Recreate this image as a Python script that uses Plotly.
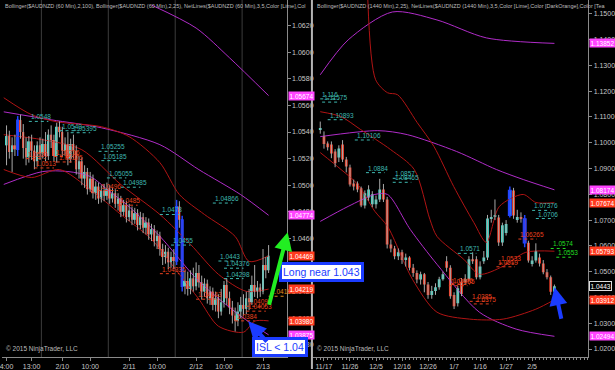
import plotly.graph_objects as go

# ---------------- LEFT PANEL: $AUDNZD 60 min ----------------
L_open = [1.0530,1.0537,1.0525,1.0530,1.0527,1.0549,1.0540,1.0528,1.0521,1.0533,
          1.0526,1.0518,1.0530,1.0524,1.0531,1.0522,1.0538,1.0534,1.0522,1.0544,
          1.0540,1.0526,1.0531,1.0520,1.0531,1.0526,1.0512,1.0518,1.0505,1.0510,
          1.0497,1.0505,1.0494,1.0499,1.0490,1.0496,1.0492,1.0497,1.0490,1.0494,
          1.0486,1.0490,1.0480,1.0485,1.0476,1.0481,1.0474,1.0479,1.0470,1.0476,
          1.0468,1.0472,1.0463,1.0467,1.0458,1.0462,1.0452,1.0446,1.0450,1.0442,
          1.0446,1.0443,1.0484,1.0474,1.0424,1.0428,1.0422,1.0430,1.0424,1.0434,
          1.0427,1.0420,1.0426,1.0415,1.0420,1.0410,1.0415,1.0405,1.0412,1.0425,
          1.0415,1.0408,1.0402,1.0398,1.0405,1.0410,1.0407,1.0415,1.0412,1.0425,
          1.0420,1.0423,1.0420,1.0440,1.0436]
L_close = [1.0537,1.0525,1.0530,1.0527,1.0549,1.0540,1.0528,1.0521,1.0533,1.0526,
           1.0518,1.0530,1.0524,1.0531,1.0522,1.0538,1.0534,1.0522,1.0544,1.0540,
           1.0526,1.0531,1.0520,1.0531,1.0526,1.0512,1.0518,1.0505,1.0510,1.0497,
           1.0505,1.0494,1.0499,1.0490,1.0496,1.0492,1.0497,1.0490,1.0494,1.0486,
           1.0490,1.0480,1.0485,1.0476,1.0481,1.0474,1.0479,1.0470,1.0476,1.0468,
           1.0472,1.0463,1.0467,1.0458,1.0462,1.0452,1.0446,1.0450,1.0442,1.0446,
           1.0443,1.0484,1.0474,1.0424,1.0428,1.0422,1.0430,1.0424,1.0434,1.0427,
           1.0420,1.0426,1.0415,1.0420,1.0410,1.0415,1.0405,1.0412,1.0425,1.0415,
           1.0408,1.0402,1.0398,1.0405,1.0410,1.0407,1.0415,1.0412,1.0425,1.0420,
           1.0423,1.0420,1.0440,1.0436,1.0447]
L_high = [1.0545,1.0541,1.0536,1.0538,1.0552,1.0553,1.0546,1.0536,1.0537,1.0538,
          1.0530,1.0533,1.0536,1.0535,1.0540,1.0542,1.0545,1.0538,1.0547,1.0548,
          1.0544,1.0536,1.0540,1.0535,1.0538,1.0530,1.0522,1.0521,1.0515,1.0513,
          1.0510,1.0508,1.0503,1.0502,1.0500,1.0501,1.0502,1.0500,1.0498,1.0497,
          1.0494,1.0492,1.0489,1.0488,1.0486,1.0484,1.0483,1.0482,1.0480,1.0479,
          1.0476,1.0475,1.0471,1.0470,1.0466,1.0465,1.0456,1.0455,1.0453,1.0450,
          1.0452,1.0489,1.0488,1.0477,1.0436,1.0435,1.0436,1.0438,1.0442,1.0440,
          1.0432,1.0430,1.0429,1.0424,1.0423,1.0420,1.0418,1.0422,1.0428,1.0430,
          1.0420,1.0413,1.0408,1.0412,1.0416,1.0418,1.0420,1.0422,1.0432,1.0440,
          1.0428,1.0426,1.0452,1.0446,1.0455]
L_low = [1.0515,1.0520,1.0510,1.0522,1.0522,1.0535,1.0520,1.0515,1.0517,1.0519,
         1.0512,1.0514,1.0519,1.0520,1.0518,1.0519,1.0528,1.0518,1.0517,1.0536,
         1.0521,1.0522,1.0515,1.0517,1.0520,1.0508,1.0505,1.0500,1.0498,1.0493,
         1.0495,1.0490,1.0489,1.0486,1.0487,1.0488,1.0489,1.0486,1.0487,1.0483,
         1.0481,1.0476,1.0477,1.0472,1.0473,1.0470,1.0471,1.0466,1.0467,1.0464,
         1.0463,1.0459,1.0458,1.0454,1.0452,1.0447,1.0440,1.0441,1.0437,1.0438,
         1.0437,1.0440,1.0468,1.0420,1.0418,1.0417,1.0418,1.0420,1.0421,1.0423,
         1.0414,1.0416,1.0411,1.0410,1.0406,1.0405,1.0400,1.0402,1.0408,1.0410,
         1.0403,1.0396,1.0390,1.0394,1.0400,1.0402,1.0403,1.0406,1.0410,1.0416,
         1.0415,1.0416,1.0418,1.0430,1.0434]
L_blue_bars = [4, 61, 63]
L_xtick_idx = [0, 9, 20, 30, 44, 54, 68, 78, 92]
L_xtick_txt = ["4:00", "13:00", "2/10", "10:00", "2/11", "10:00", "2/12", "10:00", "2/13"]
L_session_breaks = [12.5, 36.5, 60.5, 84.5]
L_yticks = [1.0380, 1.0400, 1.0420, 1.0440, 1.0460, 1.0480, 1.0500, 1.0520,
            1.0540, 1.0560, 1.0580, 1.0600, 1.0620]

# Bollinger(2,25) (dark red) and Bollinger(2,100) (magenta), read at sample bars
L_bb25_up_x = [-1, 9, 18, 34, 44, 55, 62, 71, 82, 87, 94]
L_bb25_up_y = [1.05658, 1.05530, 1.05477, 1.05440, 1.05365, 1.05170, 1.04930, 1.04780, 1.04615, 1.04427, 1.04469]
L_bb25_mid_x = [-1, 13, 27, 41, 55, 66, 76, 86, 94]
L_bb25_mid_y = [1.0538, 1.05342, 1.05267, 1.05005, 1.04780, 1.04555, 1.04330, 1.04202, 1.04219]
L_bb25_lo_x = [-1, 9, 19, 30, 41, 52, 62, 69, 76, 85, 89, 94]
L_bb25_lo_y = [1.05118, 1.05058, 1.05118, 1.04968, 1.04780, 1.04593, 1.04330, 1.04143, 1.03940, 1.03895, 1.03978, 1.03980]
L_bb100_up_x = [52, 68, 80, 94]
L_bb100_up_y = [1.06355, 1.06182, 1.05958, 1.05674]
L_bb100_mid_x = [-1, 16, 34, 55, 69, 84, 94]
L_bb100_mid_y = [1.05552, 1.05492, 1.05432, 1.05305, 1.05117, 1.04929, 1.04774]
L_bb100_lo_x = [-1, 13, 22, 30, 37, 43, 55, 69, 84, 94]
L_bb100_lo_y = [1.05006, 1.05103, 1.05103, 1.05066, 1.04953, 1.04856, 1.04616, 1.04278, 1.04016, 1.03875]

# NetLines levels: (label, level, first bar)
L_net_teal = [("1.0548", 1.0548, 8), ("1.0540", 1.0541, 19), ("1.05395", 1.05395, 23),
              ("1.05255", 1.05255, 33), ("1.05185", 1.05185, 34), ("1.05055", 1.05055, 36),
              ("1.04985", 1.04985, 41), ("1.0478", 1.0478, 55), ("1.04866", 1.04866, 74),
              ("1.0455", 1.0455, 59), ("1.0443", 1.0443, 76), ("1.04376", 1.04376, 78),
              ("1.04298", 1.04298, 78)]
L_net_red = [("1.0520", 1.0520, 7), ("1.05216", 1.05216, 17), ("1.05175", 1.05175, 18),
             ("1.0513", 1.0513, 10), ("1.0496", 1.0496, 33), ("1.0485", 1.0485, 40),
             ("1.04335", 1.04335, 55), ("1.04143", 1.04143, 68), ("1.0409", 1.0409, 86),
             ("1.04053", 1.04053, 86), ("1.0384", 1.0398, 82)]
L_net_orange = [("1.04165", 1.04165, 94)]
L_axis_tags = [("1.05674", "#ff44ff"), ("1.04774", "#ff44ff"), ("1.04469", "#ff3a1e"),
               ("1.04219", "#ff3a1e"), ("1.03980", "#ff3a1e"), ("1.03875", "#ff44ff")]

# ---------------- RIGHT PANEL: $AUDNZD 1440 min ----------------
R_open = [1.1050,1.1025,1.0997,1.0993,1.0966,1.0943,1.0993,1.0935,1.0904,1.0842,
          1.0842,1.0823,1.0757,1.0788,1.0761,1.0761,1.0780,1.0819,1.0780,1.0605,
          1.0590,1.0560,1.0575,1.0545,1.0555,1.0515,1.0495,1.0470,1.0490,1.0450,
          1.0410,1.0425,1.0440,1.0471,1.0540,1.0515,1.0410,1.0378,1.0460,1.0460,
          1.0471,1.0548,1.0548,1.0478,1.0540,1.0555,1.0706,1.0712,1.0710,1.0613,
          1.0650,1.0718,1.0815,1.0700,1.0712,1.0705,1.0612,1.0530,1.0543,1.0555,
          1.0532,1.0498,1.0478,1.0422]
R_close = [1.1054,1.0995,1.0982,1.0958,1.0920,1.0978,1.0935,1.0908,1.0838,1.0830,
           1.0819,1.0757,1.0804,1.0819,1.0800,1.0780,1.0819,1.0780,1.0605,1.0590,
           1.0560,1.0575,1.0545,1.0555,1.0515,1.0495,1.0470,1.0490,1.0450,1.0410,
           1.0425,1.0440,1.0471,1.0490,1.0515,1.0405,1.0366,1.0436,1.0413,1.0471,
           1.0548,1.0540,1.0478,1.0520,1.0555,1.0706,1.0712,1.0718,1.0613,1.0680,
           1.0685,1.0815,1.0718,1.0712,1.0705,1.0612,1.0543,1.0543,1.0580,1.0532,
           1.0498,1.0478,1.0422,1.0443]
R_high = [1.1082,1.1044,1.1005,1.1005,1.0975,1.0990,1.1010,1.0945,1.0915,1.0857,
          1.0850,1.0830,1.0815,1.0835,1.0812,1.0795,1.0860,1.0840,1.0790,1.0625,
          1.0600,1.0590,1.0585,1.0570,1.0560,1.0530,1.0505,1.0500,1.0495,1.0460,
          1.0445,1.0455,1.0480,1.0500,1.0560,1.0525,1.0420,1.0445,1.0475,1.0490,
          1.0560,1.0575,1.0560,1.0540,1.0580,1.0720,1.0740,1.0780,1.0720,1.0690,
          1.0700,1.0830,1.0825,1.0740,1.0730,1.0720,1.0620,1.0560,1.0610,1.0570,
          1.0545,1.0510,1.0485,1.0450]
R_low = [1.1035,1.0977,1.0970,1.0940,1.0905,1.0925,1.0925,1.0885,1.0830,1.0815,
         1.0808,1.0750,1.0745,1.0775,1.0750,1.0745,1.0770,1.0770,1.0590,1.0575,
         1.0548,1.0545,1.0530,1.0520,1.0505,1.0480,1.0455,1.0450,1.0420,1.0395,
         1.0395,1.0410,1.0430,1.0465,1.0500,1.0395,1.0355,1.0365,1.0405,1.0450,
         1.0465,1.0530,1.0470,1.0470,1.0530,1.0545,1.0690,1.0700,1.0600,1.0600,
         1.0640,1.0710,1.0705,1.0690,1.0690,1.0595,1.0535,1.0520,1.0535,1.0520,
         1.0490,1.0470,1.0410,1.0415]
R_blue_bars = [51, 55]
R_xtick_idx = [1, 8, 15, 22, 29, 36, 43, 50, 57]
R_xtick_txt = ["11/17", "11/26", "12/5", "12/16", "12/26", "1/7", "1/16", "1/27", "2/5"]
R_yticks = [1.0200, 1.0300, 1.0400, 1.0500, 1.0600, 1.0700, 1.0800, 1.0900,
            1.1000, 1.1100, 1.1200, 1.1300, 1.1400, 1.1500]

R_bb25_up_x = [12.8, 14.9, 18.1, 20.8, 26.1, 30.6, 35.9, 41.3, 44.7, 48.2, 54.6, 58, 63]
R_bb25_up_y = [1.15534, 1.12441, 1.11938, 1.11861, 1.10778, 1.09850, 1.08303, 1.06911, 1.06137, 1.07530, 1.07994, 1.07684, 1.07674]
R_bb25_mid_x = [0, 5.6, 10.9, 18.9, 25.3, 29.5, 31.4, 38.6, 42.8, 49.2, 55.3, 63]
R_bb25_mid_y = [1.11203, 1.11010, 1.10507, 1.09737, 1.08960, 1.07027, 1.06369, 1.05480, 1.04900, 1.05209, 1.05751, 1.05793]
R_bb25_lo_x = [0, 5.6, 10.1, 14.7, 18.1, 24.8, 31.4, 40.2, 49.2, 58, 63]
R_bb25_lo_y = [1.09618, 1.08960, 1.08381, 1.07336, 1.06756, 1.04706, 1.03430, 1.03160, 1.03160, 1.03546, 1.03912]
R_bb100_up_x = [0, 7.5, 19.4, 31.4, 44.7, 63]
R_bb100_up_y = [1.12634, 1.13987, 1.15070, 1.14761, 1.14065, 1.13852]
R_bb100_mid_x = [0, 15.5, 23.4, 36.7, 47.4, 54.6, 63]
R_bb100_mid_y = [1.10236, 1.10468, 1.10314, 1.09659, 1.08960, 1.08574, 1.08174]
R_bb100_lo_x = [0, 7.5, 14.7, 18.1, 24.2, 31.4, 42.8, 52.7, 63]
R_bb100_lo_y = [1.06949, 1.07530, 1.07994, 1.07994, 1.06640, 1.05287, 1.03430, 1.02773, 1.02494]

R_net_teal = [("1.116", 1.1170, 0), ("1.11575", 1.11575, 0.5), ("1.10893", 1.10893, 2),
              ("1.10106", 1.10106, 9.3), ("1.0884", 1.0884, 12.3), ("1.0857", 1.0862, 19.5),
              ("1.08465", 1.08465, 19.5), ("1.0571", 1.0571, 37), ("1.07376", 1.07376, 57),
              ("1.0706", 1.0706, 58)]
R_net_red = [("1.06265", 1.06265, 53.3), ("1.0533", 1.0533, 48.2), ("1.0519", 1.0519, 47.4),
             ("1.0446", 1.0450, 35.3), ("1.04455", 1.04455, 34.6), ("1.0385", 1.0385, 40.2),
             ("1.0375", 1.0375, 41.3)]
R_net_green = [("1.0574", 1.0590, 62), ("1.0553", 1.0556, 63.5)]
R_axis_tags = [("1.13852", "#ff44ff"), ("1.08174", "#ff44ff"), ("1.07674", "#ff3a1e"),
               ("1.05793", "#ff3a1e"), ("1.03912", "#ff3a1e"), ("1.02494", "#ff44ff")]
R_last_price = "1.0443"

# ---------------- styling ----------------
W, H = 615, 370
UP, DN, WICK, BLUE = "#46d6c6", "#f03c26", "#a8a8a8", "#2244ff"
BB25, BB100 = "#b01414", "#b02cc8"
TEAL, RED, GREEN, ORANGE = "#3fb8b0", "#e8401e", "#22dd22", "#e08a1a"
AXC, TXC = "#8a8a8a", "#c8c8c8"
FNT = "Liberation Sans Narrow, Liberation Sans, Arial"

fig = go.Figure()


def add_candles(o, h, l, c, blue, xa, ya, width):
    n = len(o)
    wx, wy, bx, by = [], [], [], []
    for i in range(n):
        if i in blue:
            bx += [i, i, None]; by += [l[i], h[i], None]
        else:
            wx += [i, i, None]; wy += [l[i], h[i], None]
    fig.add_trace(go.Scatter(x=wx, y=wy, mode="lines", line=dict(color=WICK, width=1),
                             xaxis=xa, yaxis=ya, hoverinfo="skip"))
    fig.add_trace(go.Scatter(x=bx, y=by, mode="lines", line=dict(color=BLUE, width=1.5),
                             xaxis=xa, yaxis=ya, hoverinfo="skip"))
    cols = [UP if c[i] >= o[i] else DN for i in range(n)]
    lcol = [BLUE if i in blue else cols[i] for i in range(n)]
    lw = [1.2 if i in blue else 0 for i in range(n)]
    fig.add_trace(go.Bar(x=list(range(n)),
                         y=[max(abs(c[i] - o[i]), 0.00004) for i in range(n)],
                         base=[min(o[i], c[i]) for i in range(n)], width=width,
                         marker=dict(color=cols, line=dict(color=lcol, width=lw)),
                         xaxis=xa, yaxis=ya, hoverinfo="skip"))


def add_line(xs, ys, color, xa, ya):
    fig.add_trace(go.Scatter(x=xs, y=ys, mode="lines",
                             line=dict(color=color, width=1, shape="spline", smoothing=0.8),
                             xaxis=xa, yaxis=ya, hoverinfo="skip"))


def add_net(items, color, xa, ya, seg):
    xs, ys = [], []
    for txt, lvl, i0 in items:
        xs += [i0, i0 + seg, None]; ys += [lvl, lvl, None]
        fig.add_annotation(x=i0, y=lvl, xref=xa, yref=ya, text=txt, showarrow=False,
                           xanchor="left", yanchor="bottom", yshift=-1,
                           font=dict(size=6.5, color=color, family=FNT))
    fig.add_trace(go.Scatter(x=xs, y=ys, mode="lines", line=dict(color=color, width=1, dash="dot"),
                             xaxis=xa, yaxis=ya, hoverinfo="skip"))


# left panel
add_line(L_bb100_up_x, L_bb100_up_y, BB100, "x", "y")
add_line(L_bb100_mid_x, L_bb100_mid_y, BB100, "x", "y")
add_line(L_bb100_lo_x, L_bb100_lo_y, BB100, "x", "y")
add_line(L_bb25_up_x, L_bb25_up_y, BB25, "x", "y")
add_line(L_bb25_mid_x, L_bb25_mid_y, BB25, "x", "y")
add_line(L_bb25_lo_x, L_bb25_lo_y, BB25, "x", "y")
add_candles(L_open, L_high, L_low, L_close, L_blue_bars, "x", "y", 0.7)
add_net(L_net_teal, TEAL, "x", "y", 7)
add_net(L_net_red, RED, "x", "y", 7)
add_net(L_net_orange, ORANGE, "x", "y", 6)

# right panel
add_line(R_bb100_up_x, R_bb100_up_y, BB100, "x2", "y2")
add_line(R_bb100_mid_x, R_bb100_mid_y, BB100, "x2", "y2")
add_line(R_bb100_lo_x, R_bb100_lo_y, BB100, "x2", "y2")
add_line(R_bb25_up_x, R_bb25_up_y, BB25, "x2", "y2")
add_line(R_bb25_mid_x, R_bb25_mid_y, BB25, "x2", "y2")
add_line(R_bb25_lo_x, R_bb25_lo_y, BB25, "x2", "y2")
add_candles(R_open, R_high, R_low, R_close, R_blue_bars, "x2", "y2", 0.75)
add_net(R_net_teal, TEAL, "x2", "y2", 5)
add_net(R_net_red, RED, "x2", "y2", 5)
add_net(R_net_green, GREEN, "x2", "y2", 4)

# session break lines (left)
for b in L_session_breaks:
    fig.add_shape(type="line", xref="x", yref="paper", x0=b, x1=b, y0=12 / H, y1=1,
                  line=dict(color="#3c3c3c", width=1), layer="below")


# axis value tags
def add_tags(tags, yref, xpix):
    for txt, col in tags:
        fig.add_annotation(xref="paper", yref=yref, x=xpix / W, y=float(txt), text=txt,
                           showarrow=False, xanchor="left", yanchor="middle",
                           bgcolor=col, borderpad=0.5, font=dict(size=6.5, color="white", family=FNT))


add_tags(L_axis_tags, "y", 289)
add_tags(R_axis_tags, "y2", 594)
fig.add_annotation(xref="paper", yref="y2", x=594 / W, y=float(R_last_price), text=R_last_price,
                   showarrow=False, xanchor="left", yanchor="middle", bgcolor="black",
                   bordercolor="#dddddd", borderwidth=1, borderpad=0.5,
                   font=dict(size=6.5, color="white", family=FNT))

# header texts
fig.add_annotation(xref="paper", yref="paper", x=1 / W, y=1 - 1 / H, xanchor="left", yanchor="top",
                   text="Bollinger($AUDNZD (60 Min),2,100), Bollinger($AUDNZD (60 Min),2,25), NetLines($AUDNZD (60 Min),3,5,Color [Lime],Col",
                   showarrow=False, font=dict(size=5.5, color="#bdbdbd", family=FNT))
fig.add_annotation(xref="paper", yref="paper", x=317 / W, y=1 - 1 / H, xanchor="left", yanchor="top",
                   text="Bollinger($AUDNZD (1440 Min),2,25), NetLines($AUDNZD (1440 Min),3,5,Color [Lime],Color [DarkOrange],Color [Tea",
                   showarrow=False, font=dict(size=5.5, color="#bdbdbd", family=FNT))
# copyright
for xp in (2, 317):
    fig.add_annotation(xref="paper", yref="paper", x=xp / W, y=1 - 356 / H, xanchor="left", yanchor="bottom",
                       text="© 2015 NinjaTrader, LLC", showarrow=False,
                       font=dict(size=6.5, color="#bdbdbd", family=FNT))

# callouts
fig.add_annotation(xref="paper", yref="paper", x=323 / W, y=1 - 273 / H, text="Long near 1.043",
                   showarrow=False, xanchor="center", yanchor="middle",
                   bgcolor="white", bordercolor="#1b3cff", borderwidth=3, borderpad=1,
                   font=dict(size=10.5, color="#1b3cff", family="Liberation Sans, Arial"))
fig.add_annotation(xref="paper", yref="paper", x=281 / W, y=1 - 348 / H, text="ISL < 1.04",
                   showarrow=False, xanchor="center", yanchor="middle",
                   bgcolor="white", bordercolor="#1b3cff", borderwidth=3, borderpad=1,
                   font=dict(size=10.5, color="#1b3cff", family="Liberation Sans, Arial"))
# arrows
fig.add_annotation(xref="paper", yref="paper", x=289 / W, y=1 - 233 / H, ax=-19, ay=74, text="",
                   showarrow=True, arrowhead=2, arrowsize=0.9, arrowwidth=4, arrowcolor="#22ee22")
fig.add_annotation(xref="paper", yref="paper", x=249 / W, y=1 - 322 / H, ax=20, ay=22, text="",
                   showarrow=True, arrowhead=2, arrowsize=0.9, arrowwidth=4, arrowcolor="#1b3cff")
fig.add_annotation(xref="paper", yref="paper", x=559 / W, y=1 - 288 / H, ax=7, ay=33, text="",
                   showarrow=True, arrowhead=2, arrowsize=0.9, arrowwidth=4, arrowcolor="#1b3cff")

# panel separator
fig.add_shape(type="line", xref="paper", yref="paper", x0=313.5 / W, x1=313.5 / W, y0=0, y1=1,
              line=dict(color="#b4b4b4", width=2))

axis_common = dict(showgrid=False, zeroline=False, showline=True, linecolor=AXC, linewidth=1,
                   ticks="outside", ticklen=3, tickcolor=AXC, ticklabeloverflow="allow",
                   tickfont=dict(size=7, color=TXC, family=FNT))
fig.update_layout(
    width=W, height=H, margin=dict(l=0, r=0, t=0, b=0),
    paper_bgcolor="black", plot_bgcolor="black", showlegend=False, barmode="overlay",
    xaxis=dict(domain=[0, 288 / W], range=[-1.63, 100.5], tickvals=L_xtick_idx, ticktext=L_xtick_txt,
               anchor="y", **axis_common),
    yaxis=dict(domain=[12 / H, 1], range=[1.03708, 1.06393], side="right", anchor="x",
               tickvals=L_yticks, tickformat=".4f", **axis_common),
    xaxis2=dict(domain=[315 / W, 593 / W], range=[-1.84, 72.1], tickvals=R_xtick_idx, ticktext=R_xtick_txt,
                anchor="y2", minor=dict(dtick=1, ticklen=2, tickcolor=AXC, ticks="outside"), **axis_common),
    yaxis2=dict(domain=[12 / H, 1], range=[1.01690, 1.15534], side="right", anchor="x2",
                tickvals=R_yticks, tickformat=".4f", **axis_common),
)

fig.write_html("out.html")
